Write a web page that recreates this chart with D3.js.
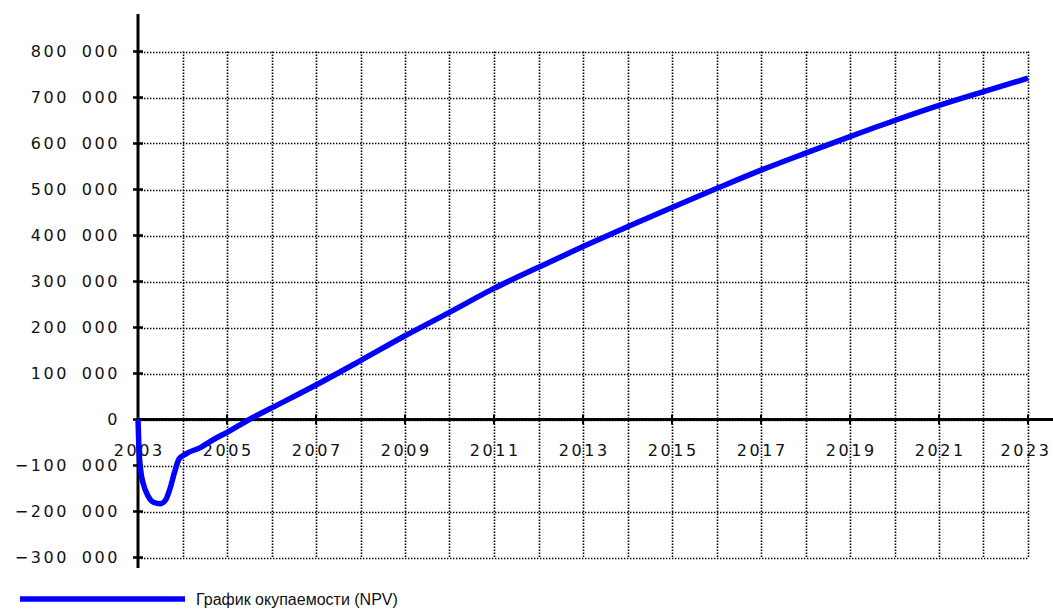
<!DOCTYPE html>
<html>
<head>
<meta charset="utf-8">
<script src="https://cdn.jsdelivr.net/npm/d3@7"></script>
<style>
  html, body { margin: 0; padding: 0; background: #fff; }
  svg { display: block; }
  .lbl { font-family: "DejaVu Sans", Verdana, sans-serif; font-size: 16px; letter-spacing: 2.6px; word-spacing: 5px; fill: #111; }
  .legend { font-family: "Liberation Sans", Arial, sans-serif; font-size: 16px; fill: #111; }
</style>
</head>
<body>
<svg id="chart"></svg>
<script>
const width = 1053, height = 610; // Size for SVG

// Data (NPV by year)
const years = [2003.00, 2003.02, 2003.06, 2003.12, 2003.22, 2003.35, 2003.50, 2003.62, 2003.72, 2003.82, 2003.92,
    2004.00, 2004.15, 2004.40, 2004.60, 2004.80, 2005.00, 2005.25, 2005.50, 2006.00,
    2007.00, 2008.00, 2009.00, 2010.00, 2011.00, 2012.00, 2013.00, 2014.00, 2015.00,
    2016.00, 2017.00, 2018.00, 2019.00, 2020.00, 2021.00, 2022.00, 2023.00];
const npv = [0, -60000, -110000, -140000, -165000, -180000, -183000, -175000, -150000, -115000, -86000,
    -79000, -71000, -61000, -49000, -38000, -28000, -14000, 0, 25000,
    75000, 128000, 182000, 233000, 285000, 331000, 376000, 419000, 461000,
    502000, 542000, 579000, 615000, 650000, 683000, 713000, 742000];
const yTicks = [-300000, -200000, -100000, 0, 100000, 200000, 300000, 400000, 500000, 600000, 700000, 800000];
const xLabelYears = [2003, 2005, 2007, 2009, 2011, 2013, 2015, 2017, 2019, 2021, 2023];
const gridYears = d3.range(2004, 2024);
const seriesName = "График окупаемости (NPV)";

const svg = d3.select("#chart")
    .attr("width", width)
    .attr("height", height);

// Scales
const x = d3.scaleLinear().domain([2003, 2023]).range([138, 1028]);
const y = d3.scaleLinear().domain([-300000, 800000]).range([557.5, 51.5]);

const fmt = v => v === 0 ? "0" : d3.format(",")(v).replace(/,/g, " ");

// Dotted grid
const grid = svg.append("g");
grid.selectAll(".hgrid")
    .data(yTicks)
    .enter().append("line")
    .attr("x1", x(2003)).attr("x2", x(2023))
    .attr("y1", d => Math.round(y(d)) + 0.5)
    .attr("y2", d => Math.round(y(d)) + 0.5)
    .style("stroke", "#000")
    .style("stroke-width", 1.6)
    .style("stroke-dasharray", "1.4,1.6");

grid.selectAll(".vgrid")
    .data(gridYears)
    .enter().append("line")
    .attr("x1", d => Math.round(x(d)) + 0.5)
    .attr("x2", d => Math.round(x(d)) + 0.5)
    .attr("y1", y(800000)).attr("y2", y(-300000))
    .style("stroke", "#000")
    .style("stroke-width", 1.6)
    .style("stroke-dasharray", "1.4,1.6");

// Axes (drawn by hand to mimic the original thick lines)
svg.append("line")
    .attr("x1", x(2003)).attr("x2", width)
    .attr("y1", y(0)).attr("y2", y(0))
    .style("stroke", "#000").style("stroke-width", 3);

svg.append("line")
    .attr("x1", x(2003)).attr("x2", x(2003))
    .attr("y1", 14).attr("y2", 568)
    .style("stroke", "#000").style("stroke-width", 3);

// Y ticks + labels
svg.selectAll(".ytick")
    .data(yTicks)
    .enter().append("line")
    .attr("x1", x(2003) - 5).attr("x2", x(2003) + 5)
    .attr("y1", d => y(d)).attr("y2", d => y(d))
    .style("stroke", "#000").style("stroke-width", 2.5);

svg.selectAll(".ylabel")
    .data(yTicks)
    .enter().append("text")
    .attr("class", "lbl")
    .attr("x", 120)
    .attr("y", d => y(d))
    .attr("dy", "0.36em")
    .attr("text-anchor", "end")
    .text(fmt);

// X ticks + labels
svg.selectAll(".xtick")
    .data(xLabelYears)
    .enter().append("line")
    .attr("x1", d => x(d)).attr("x2", d => x(d))
    .attr("y1", y(0) - 5).attr("y2", y(0) + 5)
    .style("stroke", "#000").style("stroke-width", 2);

// last label is pushed left a bit so it stays inside the picture (as in the original)
svg.selectAll(".xlabel")
    .data(xLabelYears)
    .enter().append("text")
    .attr("class", "lbl")
    .attr("x", d => Math.min(x(d) + 1.3, width - 27))
    .attr("y", 456)
    .attr("text-anchor", "middle")
    .text(d => d);

// NPV line
const line = d3.line()
    .x((d, i) => x(years[i]))
    .y(d => y(d))
    .curve(d3.curveMonotoneX);

svg.append("path")
    .datum(npv)
    .attr("d", line)
    .style("fill", "none")
    .style("stroke", "#0000ff")
    .style("stroke-width", 5.5)
    .style("stroke-linejoin", "round");

// Legend
svg.append("line")
    .attr("x1", 20).attr("x2", 185)
    .attr("y1", 599).attr("y2", 599)
    .style("stroke", "#0000ff").style("stroke-width", 5.5);

svg.append("text")
    .attr("class", "legend")
    .attr("x", 196)
    .attr("y", 605)
    .text(seriesName);
</script>
</body>
</html>
